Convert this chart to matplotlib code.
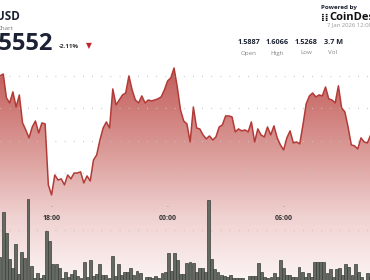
import numpy as np
import matplotlib
matplotlib.use("Agg")
import matplotlib.pyplot as plt
from matplotlib.colors import LinearSegmentedColormap

plt.rcParams['font.family'] = ['Open Sans', 'DejaVu Sans']

# price every 10 minutes, starting 15:20
price = [1.6000, 1.6012, 1.5865, 1.5834, 1.5902, 1.5809, 1.5883, 1.5711, 1.5668, 1.5619,
         1.5686, 1.5723, 1.5649, 1.5711, 1.5705, 1.5330, 1.5268, 1.5391, 1.5360, 1.5367,
         1.5330, 1.5391, 1.5367, 1.5403, 1.5403, 1.5410, 1.5342, 1.5385, 1.5354, 1.5483,
         1.5514, 1.5606, 1.5680, 1.5717, 1.5680, 1.5920, 1.5822, 1.5852, 1.5883, 1.5895,
         1.6000, 1.5914, 1.5852, 1.5834, 1.5877, 1.5834, 1.5852, 1.5846, 1.5852, 1.5859,
         1.5871, 1.5914, 1.5969, 1.5988, 1.6049, 1.5932, 1.5791, 1.5723, 1.5705, 1.5594,
         1.5809, 1.5680, 1.5674, 1.5637, 1.5613, 1.5631, 1.5606, 1.5625, 1.5686, 1.5699,
         1.5754, 1.5754, 1.5748, 1.5656, 1.5674, 1.5662, 1.5668, 1.5656, 1.5717, 1.5594,
         1.5674, 1.5637, 1.5625, 1.5686, 1.5637, 1.5693, 1.5619, 1.5576, 1.5545, 1.5619,
         1.5662, 1.5588, 1.5594, 1.5582, 1.5699, 1.5828, 1.5877, 1.5895, 1.5871, 1.5883,
         1.5877, 1.5932, 1.5859, 1.5852, 1.5834, 1.5939, 1.5803, 1.5779, 1.5686, 1.5576,
         1.5570, 1.5551, 1.5619, 1.5594, 1.5588, 1.5637]

# volume (thousands)
volume = [24, 69, 48, 22, 13, 37, 7, 29, 23, 82, 15, 3, 8, 3, 6, 50, 40, 17, 17, 13,
          3, 9, 4, 7, 11, 5, 3, 19, 4, 21, 5, 7, 17, 6, 6, 3, 25, 5, 17, 6,
          9, 9, 13, 6, 10, 8, 1, 4, 4, 3, 5, 3, 8, 9, 28, 10, 28, 21, 7, 7,
          18, 19, 18, 9, 13, 13, 9, 81, 22, 12, 9, 6, 5, 4, 6, 3, 3, 3, 3, 1,
          5, 5, 5, 18, 9, 4, 3, 4, 8, 4, 21, 13, 6, 6, 4, 4, 14, 9, 4, 8,
          4, 19, 19, 19, 19, 8, 12, 4, 12, 13, 6, 17, 14, 6, 17, 9, 4, 1, 8, 4]

tick_minutes = [160, 520, 880]
tick_labels = ['18:00', '00:00', '06:00']
grid_prices = [1.60, 1.58, 1.56, 1.54]

stats_values = ['1.5887', '1.6066', '1.5268', '3.7 M']
stats_names = ['Open', 'High', 'Low', 'Vol']

W, H = 370, 280
fig = plt.figure(figsize=(W / 100, H / 100), dpi=100)
fig.patch.set_facecolor('white')

def fx(x):
    return x / W

def fy(y):
    return 1 - y / H

t_price = np.arange(len(price)) * 10
t_vol = np.linspace(0, 1150, len(volume))
x0, x1 = 0, 1148

# volume axes
axv = fig.add_axes([0, 0, 1, 1])
axv.set_xlim(x0, x1)
axv.set_ylim(1, 281)
axv.axis('off')

# price axes
ax = fig.add_axes([0, 0, 1, 1])
ax.patch.set_alpha(0)
ylo, yhi = 1.4745, 1.6467
ax.set_xlim(x0, x1)
ax.set_ylim(ylo, yhi)
ax.axis('off')

# gradient under the line
cmap = LinearSegmentedColormap.from_list(
    'fade', [(0.0, '#fcf4f4'), (0.30, '#efd1d0'), (0.55, '#dea4a1'), (1.0, '#c25b57')])
grad = np.linspace(0, 1, 256).reshape(-1, 1)
poly = ax.fill_between(t_price, price, ylo, color='none', lw=0)
img = axv.imshow(grad, aspect='auto', cmap=cmap, origin='lower',
                 extent=[x0, x1, 1, 215], zorder=0, vmin=0, vmax=1)
img.set_clip_path(poly.get_paths()[0], transform=ax.transData)

for g in grid_prices:
    ax.axhline(g, color='#c4c4c4', lw=1.0, ls=(0, (0.6, 6)), zorder=1)
axv.axhline(51, color='#d2bcbc', lw=1.0, ls=(0, (0.6, 6)), zorder=1)

ax.plot(t_price, price, color='#b23b37', lw=1.1, zorder=3)

axv.bar(t_vol, volume, width=9, bottom=0, color='#646962', edgecolor='#3a3e3a',
        lw=0.5, zorder=2)

for m, lab in zip(tick_minutes, tick_labels):
    xp = m / x1 * W
    fig.text(fx(xp), fy(208), '·', ha='center', va='center', fontsize=5, color='#777777')
    fig.text(fx(xp), fy(219), lab, ha='center', va='center', fontsize=5,
             fontweight='bold', color='#333333')

# header, left (the widget is cropped at the left edge)
fig.text(fx(20), fy(17), 'XRP/USD', ha='right', va='center', fontsize=8.5,
         fontweight='bold', color='#1c2233')
fig.text(fx(13), fy(28), 'Chart', ha='right', va='center', fontsize=4.5, color='#777777')
fig.text(fx(53), fy(44), '1.5552', ha='right', va='center', fontsize=17,
         fontweight='bold', color='#1c2233')
fig.text(fx(59), fy(46), '-2.11%', ha='left', va='center', fontsize=4.5,
         fontweight='bold', color='#333333')
fig.text(fx(89), fy(46), '▼', ha='center', va='center', fontsize=5.5,
         color='#c0262b', family=['DejaVu Sans'])

# header, right
fig.text(fx(321), fy(7), 'Powered by', ha='left', va='center', fontsize=4.5,
         fontweight='bold', color='#1c2233')
fig.text(fx(321), fy(18), '⁞⁞', ha='left', va='center', fontsize=7,
         fontweight='bold', color='#111111', family=['DejaVu Sans'])
fig.text(fx(329), fy(18), 'CoinDesk', ha='left', va='center', fontsize=8,
         fontweight='bold', color='#111111')
fig.text(fx(327), fy(25), '7 Jan 2026 12:00', ha='left', va='center', fontsize=4.3,
         color='#999999')
for xc, v, n in zip([249, 277, 306, 333], stats_values, stats_names):
    fig.text(fx(xc), fy(43), v, ha='center', va='center', fontsize=5.2,
             fontweight='bold', color='#1c2233')
    fig.text(fx(xc), fy(53), n, ha='center', va='center', fontsize=4.5, color='#888888')

fig.savefig('out.png', dpi=100)
